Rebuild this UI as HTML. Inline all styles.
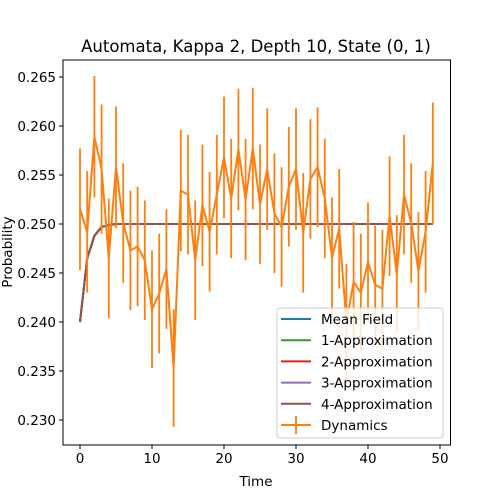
<!DOCTYPE html>
<html><head><meta charset="utf-8"><style>
html,body{margin:0;padding:0;background:#fff;}
svg{display:block;font-family:"DejaVu Sans","Liberation Sans",sans-serif;}
</style></head><body>
<svg id="chart" width="500" height="500" viewBox="0 0 500 500">
<rect width="500" height="500" fill="#fff"/>
<text x="256" y="52" font-size="16.5" text-anchor="middle" fill="#000">Automata, Kappa 2, Depth 10, State (0, 1)</text>
<g id="plot"></g>
<g id="axes"></g>
<text x="256" y="486" font-size="13.5" text-anchor="middle">Time</text>
<text x="12" y="252" font-size="13.5" text-anchor="middle" transform="rotate(-90 12 252)">Probability</text>
<g id="legend"></g>
</svg>
<script>
const times = Array.from({length:50},(_, i)=>i);
const dynMean = [0.2515,0.2492,0.2589,0.2556,0.2465,0.2558,0.2501,0.2473,0.2477,0.2463,
0.2413,0.2429,0.2454,0.2353,0.2534,0.2530,0.2463,0.2519,0.2492,0.2530,
0.2568,0.2526,0.2576,0.2525,0.2577,0.2520,0.2556,0.2511,0.2497,0.2538,
0.2556,0.2491,0.2546,0.2558,0.2526,0.2466,0.2495,0.2400,0.2441,0.2430,
0.2461,0.2438,0.2434,0.2508,0.2449,0.2530,0.2501,0.2452,0.2492,0.2562];
const dynErr = [0.0062,0.0062,0.0062,0.0066,0.0061,0.0062,0.0061,0.0061,0.0061,0.0061,
0.0060,0.0061,0.0061,0.0060,0.0062,0.0061,0.0061,0.0062,0.0061,0.0061,
0.0062,0.0061,0.0062,0.0062,0.0062,0.0061,0.0062,0.0061,0.0061,0.0061,
0.0062,0.0061,0.0061,0.0061,0.0061,0.0061,0.0061,0.0059,0.0061,0.0060,
0.0061,0.0060,0.0060,0.0061,0.0060,0.0061,0.0061,0.0060,0.0062,0.0062];
const approxHead = [0.2400,0.2465,0.2488,0.2497,0.2499];
const approxTail = 0.2500;
const seriesNames = ["Mean Field","1-Approximation","2-Approximation","3-Approximation","4-Approximation"];
const seriesColors = ["#1f77b4","#2ca02c","#d62728","#9467bd","#8c564b"];
const xTicks = [0,10,20,30,40,50];
const yTicks = [0.230,0.235,0.240,0.245,0.250,0.255,0.260,0.265];

const L=63,R=450.5,T=60,B=445;
const xs = t => 80 + t*7.2;
const ys = v => 420 - (v-0.230)*9800;
const NS="http://www.w3.org/2000/svg";
function mk(tag, attrs, parent){const e=document.createElementNS(NS,tag);for(const k in attrs)e.setAttribute(k,attrs[k]);parent.appendChild(e);return e;}
const plot=document.getElementById('plot'), axes=document.getElementById('axes'), leg=document.getElementById('legend');

const approx = times.map(t => t < approxHead.length ? approxHead[t] : approxTail);
seriesNames.forEach((n,i)=>{
  const pts = times.map(t=>xs(t).toFixed(2)+","+ys(approx[t]).toFixed(2)).join(" ");
  const p = mk('polyline',{points:pts,fill:'none',stroke:seriesColors[i],'stroke-width':2},plot);
  
  
});
times.forEach(t=>{
  const e = mk('line',{x1:xs(t),x2:xs(t),y1:ys(dynMean[t]-dynErr[t]),y2:ys(dynMean[t]+dynErr[t]),stroke:'#ff7f0e','stroke-width':1.8},plot);
  
  
});
const dpts = times.map(t=>xs(t).toFixed(2)+","+ys(dynMean[t]).toFixed(2)).join(" ");
const dl = mk('polyline',{points:dpts,fill:'none',stroke:'#ff7f0e','stroke-width':2},plot);



const frame = mk('rect',{x:L,y:T,width:R-L,height:B-T,fill:'none',stroke:'#000','stroke-width':1},axes);


xTicks.forEach(v=>{
  const x=xs(v);
  const tk=mk('line',{x1:x,x2:x,y1:B,y2:B+4,stroke:'#000'},axes);
  
  
  const tx=mk('text',{x:x,y:B+18,'font-size':13.5,'text-anchor':'middle'},axes);
  tx.textContent=v;
  
  
});
yTicks.forEach(v=>{
  const y=ys(v);
  const tk=mk('line',{x1:L-4,x2:L,y1:y,y2:y,stroke:'#000'},axes);
  
  
  const tx=mk('text',{x:L-7,y:y+5,'font-size':13.5,'text-anchor':'end'},axes);
  tx.textContent=v.toFixed(3);
  
  
});

const lb = mk('rect',{x:277,y:308,width:166,height:130,rx:3,fill:'#fff','fill-opacity':0.8,stroke:'#ccc'},leg);


const labels = seriesNames.concat(["Dynamics"]);
const colors = seriesColors.concat(["#ff7f0e"]);
labels.forEach((n,i)=>{
  const y=319+i*21.2;
  const g=mk('g',{},leg);
  
  
  mk('line',{x1:281,x2:311,y1:y,y2:y,stroke:colors[i],'stroke-width':2},g);
  if(i===5) mk('line',{x1:296,x2:296,y1:y-9,y2:y+9,stroke:colors[i],'stroke-width':1.8},g);
  const t=mk('text',{x:321,y:y+5,'font-size':13.5},g);
  t.textContent=n;
});
</script>
</body></html>
